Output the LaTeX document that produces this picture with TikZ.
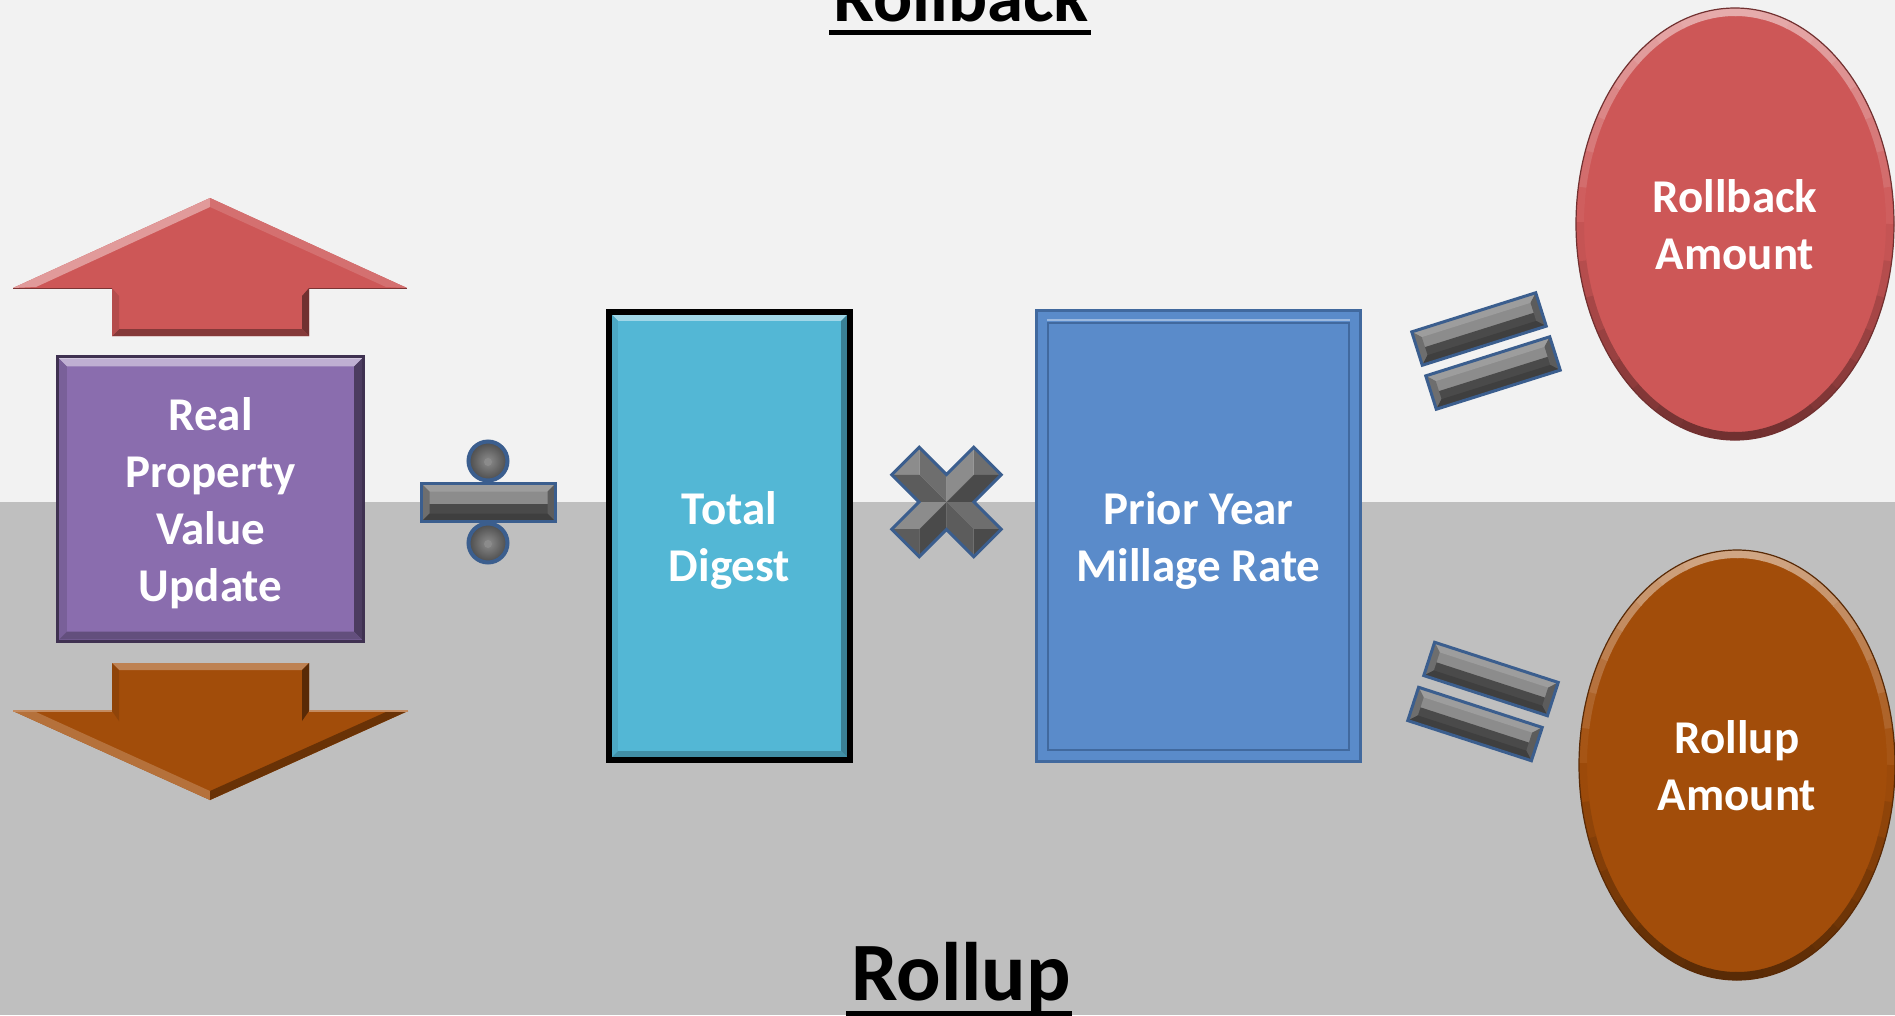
\documentclass[tikz,border=0pt]{standalone}
\usepackage{fontspec}
\setmainfont{Carlito}
\usetikzlibrary{calc,shapes.geometric}
\definecolor{bgtop}{HTML}{F2F2F2}
\definecolor{bgbot}{HTML}{BFBFBF}
\definecolor{redc}{HTML}{CD5757}
\definecolor{orc}{HTML}{A24D0A}
\definecolor{purc}{HTML}{8A6DAE}
\definecolor{purd}{HTML}{3F3151}
\definecolor{cyc}{HTML}{53B7D5}
\definecolor{bluc}{HTML}{5A8BCA}
\definecolor{blud}{HTML}{41699E}
\definecolor{symb}{HTML}{3B5E8E}
\definecolor{gl}{HTML}{8C8C8C}
\definecolor{gm}{HTML}{6E6E6E}
\definecolor{gmd}{HTML}{5C5C5C}
\definecolor{gd}{HTML}{4A4A4A}
\tikzset{
  boxtext/.style={text=white, font=\fontsize{47}{57}\selectfont\bfseries, align=center, inner sep=0pt},
  plainbox/.style={inner sep=0pt},
  titletext/.style={inner sep=0pt, anchor=base},
  symline/.style={draw=symb, line width=3pt, line join=miter},
}
% bevel strips inside a rectangular node: name, width, top, left, right, bottom colours
\newcommand\bevelstrips[6]{%
  \fill[#3] (#1.north west) -- (#1.north east) -- ($(#1.north east)+(-#2,#2)$) -- ($(#1.north west)+(#2,#2)$) -- cycle;
  \fill[#4] (#1.north west) -- ($(#1.north west)+(#2,#2)$) -- ($(#1.south west)+(#2,-#2)$) -- (#1.south west) -- cycle;
  \fill[#5] (#1.north east) -- ($(#1.north east)+(-#2,#2)$) -- ($(#1.south east)+(-#2,-#2)$) -- (#1.south east) -- cycle;
  \fill[#6] (#1.south west) -- ($(#1.south west)+(#2,-#2)$) -- ($(#1.south east)+(-#2,-#2)$) -- (#1.south east) -- cycle;
}
% one bevelled bar centred at origin: half length, half thickness
\newcommand\gbar[2]{%
  \fill[gl] (-#1,-#2) rectangle (#1,#2);
  \fill[gd] (-#1,1) rectangle (#1,#2);
  \fill[gl!85!white] (-#1,-#2) -- (#1,-#2) -- (#1-8,-#2+8) -- (-#1+8,-#2+8) -- cycle;
  \fill[gm] (-#1,-#2) -- (-#1+8,-#2+8) -- (-#1+8,#2-8) -- (-#1,#2) -- cycle;
  \fill[gmd] (#1,-#2) -- (#1-8,-#2+8) -- (#1-8,#2-8) -- (#1,#2) -- cycle;
  \fill[gd!85!black] (-#1,#2) -- (-#1+8,#2-8) -- (#1-8,#2-8) -- (#1,#2) -- cycle;
  \draw[symline] (-#1,-#2) rectangle (#1,#2);
}
\newcommand\gdot[2]{%
  \shade[inner color=gl, outer color=gd] (#1,#2) circle[radius=20];
  \draw[symb, line width=4pt] (#1,#2) circle[radius=19.5];
  \fill[gm!80!white] (#1,#2+1) circle[radius=4];
}
% soft bevel ring for an ellipse node: name, colour, rx, ry
\newcommand\ellbevel[4]{%
  \foreach \a in {180,190,...,350}{%
    \pgfmathsetmacro\m{100-50*abs(sin(\a+5))}%
    \draw[#2!\m!white, line width=8pt] ($(#1.center)+({#3*cos(\a)},{#4*sin(\a)})$) arc[start angle=\a, end angle=\a+10.5, x radius=#3, y radius=#4];
  }%
  \foreach \a in {0,10,...,170}{%
    \pgfmathsetmacro\m{100-45*abs(sin(\a+5))}%
    \draw[#2!\m!black, line width=8pt] ($(#1.center)+({#3*cos(\a)},{#4*sin(\a)})$) arc[start angle=\a, end angle=\a+10.5, x radius=#3, y radius=#4];
  }%
}
\begin{document}
\begin{tikzpicture}[x=1pt,y=-1pt]
\useasboundingbox (0,0) rectangle (1895,1015);
\clip (0,0) rectangle (1895,1015);
% background
\fill[bgtop] (0,0) rectangle (1895,502);
\fill[bgbot] (0,502) rectangle (1895,1015);

% titles
\node[titletext, font=\fontsize{73}{80}\selectfont\bfseries] (ttop) at (961,21) {Rollback};
\fill ($(ttop.base west)+(-4,9)$) rectangle ($(ttop.base east)+(2,14)$);
\node[titletext, font=\fontsize{83}{90}\selectfont\bfseries] (tbot) at (961,1000) {Rollup};
\fill ($(tbot.base west)+(-5,11)$) rectangle ($(tbot.base east)+(1,20)$);

% up arrow (red)
\fill[redc] (210,198) -- (407,288) -- (309,288) -- (309,336) -- (112,336) -- (112,288) -- (13,288) -- cycle;
\fill[redc!60!white] (13,288) -- (210,198) -- (210,207) -- (36,287) -- cycle;
\fill[redc!85!white] (210,198) -- (407,288) -- (386,287) -- (210,207) -- cycle;
\fill[redc!55!black] (309,288) -- (309,336) -- (302,329) -- (302,296) -- cycle;
\fill[redc!65!black] (112,336) -- (309,336) -- (302,329) -- (119,329) -- cycle;
\fill[redc!88!black] (112,288) -- (119,296) -- (119,329) -- (112,336) -- cycle;
\draw[redc!60!black, line width=1pt] (13,288) -- (112,288) (309,288) -- (407,288);

% down arrow (orange)
\fill[orc] (112,663) -- (309,663) -- (309,711) -- (408,711) -- (210,800) -- (13,711) -- (112,711) -- cycle;
\fill[orc!70!white] (112,663) -- (309,663) -- (302,670) -- (119,670) -- cycle;
\fill[orc!55!black] (309,663) -- (302,670) -- (302,721) -- (309,711) -- cycle;
\fill[orc!88!black] (112,663) -- (119,670) -- (119,721) -- (112,711) -- cycle;
\fill[orc!80!white] (13,711) -- (210,800) -- (210,791) -- (36,712) -- cycle;
\fill[orc!65!black] (408,711) -- (210,800) -- (210,791) -- (386,712) -- cycle;
\draw[orc!65!white, line width=1.5pt] (13,711) -- (112,711) (309,711) -- (408,711);

% purple box
\node[plainbox, fill=purc, minimum width=303pt, minimum height=281pt] (rpv) at (210.5,499) {};
\bevelstrips{rpv}{8}{purc!55!white}{purc!88!black}{purc!55!black}{purc!72!black}
\draw[purd, line width=3pt] ($(rpv.north west)+(-1.5,-1.5)$) rectangle ($(rpv.south east)+(1.5,1.5)$);
\node[boxtext] (rpvt) at (210.5,503) {Real\\Property\\Value\\Update};

% divide sign
\begin{scope}[shift={(488.5,502.5)}]
  \gbar{67}{19}
\end{scope}
\gdot{488}{461}
\gdot{488}{543}

% total digest box
\node[plainbox, fill=cyc, minimum width=235pt, minimum height=442pt] (td) at (729.5,536) {};
\bevelstrips{td}{6}{cyc!55!white}{cyc!92!black}{cyc!70!black}{cyc!78!black}
\draw[black, line width=6pt] ($(td.north west)+(-3,-3)$) rectangle ($(td.south east)+(3,3)$);
\node[boxtext] (tdt) at (729.5,540) {Total\\Digest};

% multiply sign
\begin{scope}[shift={(946.5,502)}]
  \fill[gl] (0,0) -- (0,-27.6) -- (27.2,-54.8) -- (27.2,-27.2) -- cycle;
  \fill[gm] (27.2,-54.8) -- (54.8,-27.2) -- (27.2,-27.2) -- cycle;
  \fill[gd] (0,0) -- (27.2,-27.2) -- (54.8,-27.2) -- (27.6,0) -- cycle;
  \fill[gm] (0,0) -- (0,-27.6) -- (-27.2,-54.8) -- (-27.2,-27.2) -- cycle;
  \fill[gl] (-27.2,-54.8) -- (-54.8,-27.2) -- (-27.2,-27.2) -- cycle;
  \fill[gmd] (0,0) -- (-27.2,-27.2) -- (-54.8,-27.2) -- (-27.6,0) -- cycle;
  \fill[gl] (0,0) -- (-27.6,0) -- (-54.8,27.2) -- (-27.2,27.2) -- cycle;
  \fill[gmd] (-54.8,27.2) -- (-27.2,54.8) -- (-27.2,27.2) -- cycle;
  \fill[gd] (0,0) -- (-27.2,27.2) -- (-27.2,54.8) -- (0,27.6) -- cycle;
  \fill[gm] (0,0) -- (27.6,0) -- (54.8,27.2) -- (27.2,27.2) -- cycle;
  \fill[gd] (54.8,27.2) -- (27.2,54.8) -- (27.2,27.2) -- cycle;
  \fill[gmd] (0,0) -- (27.2,27.2) -- (27.2,54.8) -- (0,27.6) -- cycle;
  \draw[symline] (27.6,0) -- (54.8,-27.2) -- (27.2,-54.8) -- (0,-27.6) -- (-27.2,-54.8) -- (-54.8,-27.2)
     -- (-27.6,0) -- (-54.8,27.2) -- (-27.2,54.8) -- (0,27.6) -- (27.2,54.8) -- (54.8,27.2) -- cycle;
\end{scope}

% prior year millage rate box
\node[plainbox, fill=bluc, minimum width=321pt, minimum height=448pt] (pym) at (1198.5,536) {};
\draw[blud, line width=3pt] ($(pym.north west)+(-1.5,-1.5)$) rectangle ($(pym.south east)+(1.5,1.5)$);
\draw[bluc!60!white, line width=1.5pt] ($(pym.north west)+(9,8)$) -- ($(pym.north east)+(-9,8)$);
\draw[blud, line width=2.5pt] ($(pym.north west)+(10,11)$) rectangle ($(pym.south east)+(-10,-10)$);
\node[boxtext] (pymt) at (1198.5,540) {Prior Year\\Millage Rate};

% equals signs (rollback)
\begin{scope}[shift={(1479,329)}, rotate=17.5] \gbar{65}{17.5} \end{scope}
\begin{scope}[shift={(1493,373)}, rotate=17.5] \gbar{65}{17.5} \end{scope}
% equals signs (rollup)
\begin{scope}[shift={(1491,679)}, rotate=-18] \gbar{65}{17.5} \end{scope}
\begin{scope}[shift={(1475,724)}, rotate=-18] \gbar{65}{17.5} \end{scope}

% result ellipses
\node[ellipse, plainbox, fill=redc, minimum width=318pt, minimum height=432pt] (rba) at (1735,224) {};
\ellbevel{rba}{redc}{155}{212}
\draw[redc!55!black, line width=1.2pt] (rba.center) ellipse[x radius=159, y radius=216];
\node[boxtext] (rbat) at (1735,224.5) {Rollback\\Amount};

\node[ellipse, plainbox, fill=orc, minimum width=316pt, minimum height=430pt] (rua) at (1737,765) {};
\ellbevel{rua}{orc}{154}{211}
\draw[orc!55!black, line width=1.2pt] (rua.center) ellipse[x radius=158, y radius=215];
\node[boxtext] (ruat) at (1737,765.5) {Rollup\\Amount};
\end{tikzpicture}
\end{document}
